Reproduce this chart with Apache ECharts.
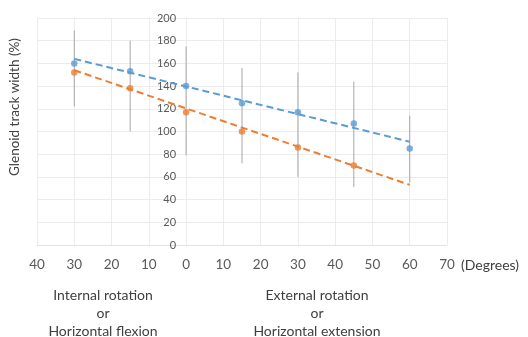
<!DOCTYPE html>
<html>
<head>
<meta charset="utf-8">
<script src="https://cdn.jsdelivr.net/npm/echarts@6/dist/echarts.min.js"></script>
<style>html,body{margin:0;padding:0;background:#fff}#c{width:528px;height:337px}</style>
</head>
<body>
<div id="c"></div>
<script>
// Angles: negative = internal rotation / horizontal flexion, positive = external rotation / horizontal extension
const angles = [-30, -15, 0, 15, 30, 45, 60];
const seriesA = [160, 153, 140, 125, 117, 107, 85];
const anglesB = [-30, -15, 0, 15, 30, 45];
const seriesB = [152, 138, 117, 100, 86, 70];
// Error bar extents (visible gray lines)
const errTop = [189, 180, 175, 156, 152, 144, 114];
const errBottom = [122, 100, 79, 72, 60, 51, 55];
// Trend lines (endpoints)
const trendX = [-30, 60];
const trendA = [164, 91];
const trendB = [154, 53];
const yTicks = [0, 20, 40, 60, 80, 100, 120, 140, 160, 180, 200];
const xTicks = [-40, -30, -20, -10, 0, 10, 20, 30, 40, 50, 60, 70];

const FONT = 'Lato, "Open Sans", sans-serif';
const BLUE = '#5b9bd5', ORANGE = '#ed7d31';
const GRID_LEFT = 37, GRID_RIGHT = 81, W = 528;

const chart = echarts.init(document.getElementById('c'), null, {renderer: 'canvas'});
const xMin = xTicks[0], xMax = xTicks[xTicks.length - 1];
// shift y axis so it sits at x = 0 of the value axis
const zeroOffset = (0 - xMin) / (xMax - xMin) * (W - GRID_LEFT - GRID_RIGHT);
const option = {
  animation: false,
  textStyle: {fontFamily: FONT},
  grid: {left: GRID_LEFT, right: GRID_RIGHT, top: 18, bottom: 92, containLabel: false},
  xAxis: {
    type: 'value', min: xMin, max: xMax, interval: 10,
    axisLine: {onZero: false, show: true, lineStyle: {color: '#e3e3e3'}},
    axisTick: {show: false},
    axisLabel: {margin: 13, color: '#595959', fontSize: 13.5, fontFamily: FONT,
      formatter: v => String(Math.abs(v))},
    splitLine: {show: true, lineStyle: {color: '#ececec'}}
  },
  yAxis: {
    type: 'value', min: yTicks[0], max: yTicks[yTicks.length - 1], interval: 20,
    position: 'left', offset: -zeroOffset,
    axisLine: {show: true, onZero: false, lineStyle: {color: '#ececec'}},
    axisTick: {show: false},
    axisLabel: {margin: 10, color: '#595959', fontSize: 11, fontFamily: FONT},
    splitLine: {show: true, lineStyle: {color: '#ececec'}}
  },
  series: [
    {
      type: 'custom', name: 'err', z: 1,
      data: angles.map((a, i) => [a, errBottom[i], errTop[i]]),
      encode: {x: 0, y: [1, 2]},
      renderItem: (params, api) => {
        const p1 = api.coord([api.value(0), api.value(1)]);
        const p2 = api.coord([api.value(0), api.value(2)]);
        return {type: 'line', shape: {x1: p1[0], y1: p1[1], x2: p2[0], y2: p2[1]},
          style: {stroke: '#a6a6a6', lineWidth: 1}};
      }
    },
    {
      type: 'line', name: 'trendA', z: 2, symbol: 'none',
      data: trendX.map((x, i) => i === trendX.length - 1
        ? {value: [x, trendA[i]], label: {show: true, formatter: 'A', position: 'right', distance: 7, offset: [0, 4], color: '#404040', fontSize: 14, fontFamily: FONT}}
        : [x, trendA[i]]),
      lineStyle: {color: BLUE, width: 2, type: [7, 4]}
    },
    {
      type: 'line', name: 'trendB', z: 2, symbol: 'none',
      data: trendX.map((x, i) => i === trendX.length - 1
        ? {value: [x, trendB[i]], label: {show: true, formatter: 'B', position: 'right', distance: 7, offset: [0, 8], color: '#404040', fontSize: 14, fontFamily: FONT}}
        : [x, trendB[i]]),
      lineStyle: {color: ORANGE, width: 2, type: [7, 4]}
    },
    {
      type: 'scatter', name: 'A', z: 3, symbolSize: 6.5,
      data: angles.map((a, i) => [a, seriesA[i]]),
      itemStyle: {color: BLUE}
    },
    {
      type: 'scatter', name: 'B', z: 3, symbolSize: 6.5,
      data: anglesB.map((a, i) => [a, seriesB[i]]),
      itemStyle: {color: ORANGE}
    }
  ],
  graphic: [
    {type: 'text', x: 15, y: 107, rotation: Math.PI / 2,
      style: {text: 'Glenoid track width (%)', fill: '#404040', font: '13.5px ' + FONT, align: 'center', verticalAlign: 'middle'}},
    {type: 'text', x: 461, y: 258, style: {text: '(Degrees)', fill: '#404040', font: '14px ' + FONT}},
    {type: 'text', x: 103, y: 286, style: {text: 'Internal rotation\nor\nHorizontal flexion', fill: '#404040', font: '14px ' + FONT, align: 'center', lineHeight: 18}},
    {type: 'text', x: 317, y: 286, style: {text: 'External rotation\nor\nHorizontal extension', fill: '#404040', font: '14px ' + FONT, align: 'center', lineHeight: 18}}
  ]
};
chart.setOption(option);
</script>
</body>
</html>
